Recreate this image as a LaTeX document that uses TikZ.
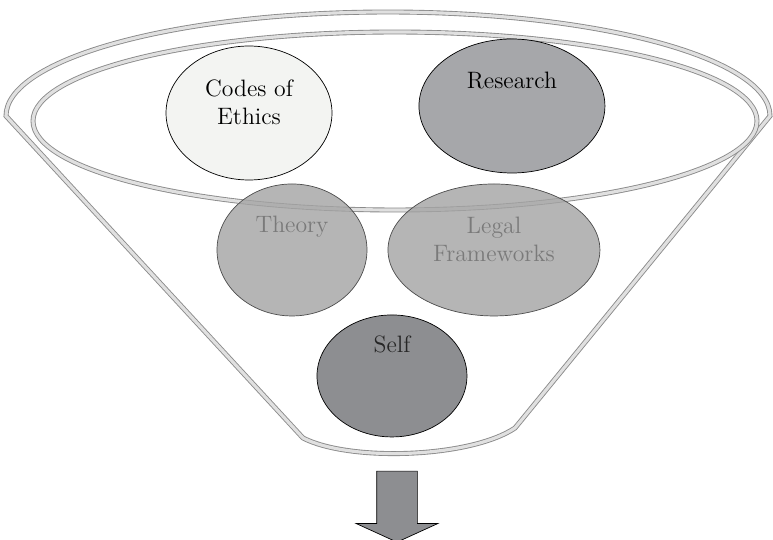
\documentclass[tikz,border=0pt]{standalone}
\usepackage{tikz}
\usetikzlibrary{shapes.geometric,shapes.arrows}
\usetikzlibrary{positioning}
\definecolor{lightfill}{HTML}{F3F4F2}
\definecolor{midfill}{HTML}{A6A7AA}
\definecolor{darkfill}{HTML}{8D8E91}
\definecolor{glass}{HTML}{8A8A8A}
\tikzset{
    blob/.style={
           ellipse,
           draw=black, thin,
           inner sep=0pt,
           align=center,
           font=\fontsize{13.5}{16}\selectfont,
           },
    faded/.style={
           blob,
           draw=black!70,
           fill=black!36, fill opacity=0.8,
           text=black!52, text opacity=1,
           },
    funnel/.style={
           draw=glass, line width=0.5pt,
           double=black!12, double distance=1.8pt,
           },
}
\begin{document}
\begin{tikzpicture}[x=0.02cm,y=-0.02cm]
 \useasboundingbox (0,0) rectangle (773,540);
 % funnel body and rim
 \draw[funnel, fill=white] (6,116) arc[start angle=180, end angle=360, x radius=382, y radius=104]
   -- (515,428) .. controls (470,458) and (350,462) .. (303,438) -- cycle;
 \draw[funnel] (395,121) ellipse[x radius=362, y radius=89];
 \node[blob,
 fill=lightfill,
 minimum width=3.32cm,
 minimum height=2.68cm,
 text depth=0.42cm] (CoE) at (249,113)
 {Codes of\\Ethics};
 \node[blob,
 right of=CoE,
 node distance=5.26cm,
 yshift=0.14cm,
 fill=midfill,
 minimum width=3.72cm,
 minimum height=2.68cm,
 text depth=1.04cm] (RES)
 {Research};
 \node[faded,
 below of=CoE,
 node distance=2.74cm,
 xshift=0.86cm,
 minimum width=3.0cm,
 minimum height=2.64cm,
 text depth=1.04cm] (THE)
 {Theory};
 \node[faded,
 right of=THE,
 node distance=4.04cm,
 minimum width=4.24cm,
 minimum height=2.64cm,
 text depth=0.42cm] (LEG)
 {Legal\\Frameworks};
 \node[blob,
 below of=THE,
 node distance=2.52cm,
 xshift=2cm,
 fill=darkfill,
 text=black!85,
 minimum width=3.0cm,
 minimum height=2.44cm,
 text depth=1.28cm] (SELF)
 {Self};
 % output arrow
 \node[single arrow,
 draw=black, thin,
 fill=darkfill,
 rotate=-90,
 inner xsep=0pt,
 inner ysep=0.4cm,
 minimum height=1.42cm,
 single arrow head extend=0.41cm,
 single arrow tip angle=131] (OUT) at (397,502) {};
\end{tikzpicture}
\end{document}
